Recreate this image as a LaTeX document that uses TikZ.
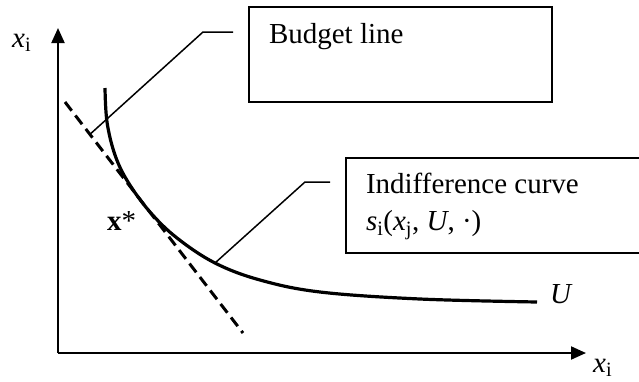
\documentclass[tikz,border=0pt]{standalone}
\usepackage{fontspec}
\setmainfont{Liberation Serif}
\usetikzlibrary{positioning,calc,arrows.meta}

\begin{document}
\begin{tikzpicture}[x=1pt, y=-1pt, every node/.style={font=\fontsize{29}{37}\selectfont}]
    \tikzset{axis/.style={draw, line width=2pt, -{Triangle[length=15pt, width=13pt]}}}
    \tikzset{budget/.style={draw, line width=3pt, dash pattern=on 11pt off 6pt}}
    \tikzset{icurve/.style={draw, line width=3.2pt}}
    \tikzset{callout/.style={draw, line width=1.5pt}}
    \tikzset{textbox/.style={rectangle, draw, line width=2.4pt, minimum width=303pt, minimum height=95pt}}
    \tikzset{boxtext/.style={anchor=base west, inner sep=0pt, align=left}}
    \tikzset{lbl/.style={anchor=base west, inner sep=0pt}}
    \useasboundingbox (0,0) rectangle (639,381);
    \clip (0,0) rectangle (639,381);

    % Axes
    \coordinate (origin) at (58,353);
    \coordinate (y_end) at (58,28);
    \coordinate (x_end) at (586,353);
    \draw [axis] (origin) -- (y_end);
    \draw [axis] (origin) -- (x_end);
    \node [lbl] (y_lbl) at (12,47) {\textit{x}\textsubscript{i}};
    \node [lbl] (x_lbl) at (593,372) {\textit{x}\textsubscript{i}};

    % Budget line
    \coordinate (bl_start) at (65,102);
    \coordinate (bl_end) at (243,333);
    \path [budget] (bl_start) -- (bl_end);

    % Indifference curve
    \path [icurve] plot [smooth, tension=0.6] coordinates {(105,88) (107,122) (115,155) (128,182) (150,212) (177,238) (215,263) (260,280) (320,292) (420,299) (537,302)};
    \node [lbl] (u_lbl) at (550,303) {\textit{U}};
    \node [lbl] (opt) at (107,230) {\textbf{x}*};

    % Boxes
    \node [textbox] (bud_box) at (400.5,54.5) {};
    \node [boxtext] (bud_txt) at ($(bud_box.north west)+(21,38)$) {Budget line};
    \node [textbox, minimum width=314pt] (ic_box) at (503,205.5) {};
    \node [boxtext] (ic_txt) at ($(ic_box.north west)+(21,74)$) {Indifference curve\\ \textit{s}\textsubscript{i}(\textit{x}\textsubscript{j}, \textit{U}, ·)};

    % Callouts
    \coordinate (bud_pt) at ($(bl_start)!0.14!(bl_end)$);
    \coordinate (bud_knee) at (203,32);
    \coordinate (bud_end) at (233,32);
    \path [callout] (bud_pt) -- (bud_knee) -- (bud_end);
    \coordinate (ic_pt) at (215,263);
    \coordinate (ic_knee) at (305,182);
    \coordinate (ic_end) at (330,182);
    \path [callout] (ic_pt) -- (ic_knee) -- (ic_end);
\end{tikzpicture}
\end{document}
